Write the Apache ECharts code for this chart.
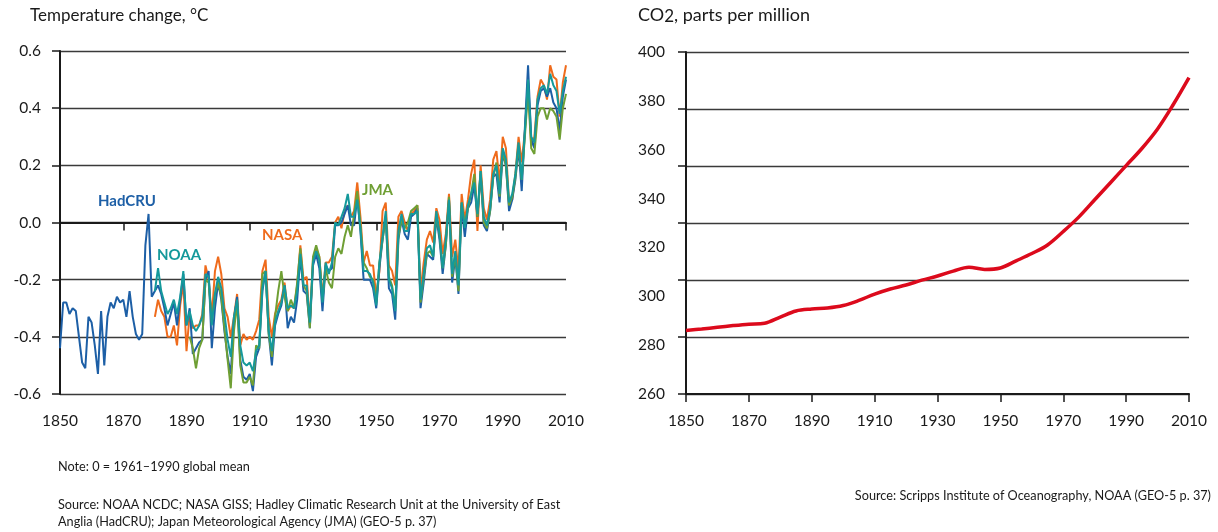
<!DOCTYPE html>
<html>
<head>
<meta charset="utf-8">
<script src="https://cdn.jsdelivr.net/npm/echarts@6/dist/echarts.min.js"></script>
<style>
  html, body { margin: 0; padding: 0; background: #ffffff; }
  #chart { width: 1218px; height: 532px; }
</style>
</head>
<body>
<div id="chart"></div>
<script>
// Global temperature anomalies (°C, relative to the 1961–1990 mean)
const hadcruStart = 1850;
const hadcru = [
  -0.44, -0.28, -0.28, -0.32, -0.30, -0.31, -0.40, -0.49, -0.51, -0.33,
  -0.35, -0.43, -0.53, -0.31, -0.50, -0.33, -0.28, -0.30, -0.26, -0.28,
  -0.27, -0.33, -0.24, -0.33, -0.39, -0.41, -0.39, -0.08, 0.03, -0.26,
  -0.24, -0.22, -0.25, -0.30, -0.36, -0.32, -0.28, -0.36, -0.27, -0.18,
  -0.36, -0.30, -0.46, -0.44, -0.42, -0.41, -0.20, -0.17, -0.44, -0.30,
  -0.21, -0.27, -0.38, -0.47, -0.53, -0.34, -0.26, -0.48, -0.54, -0.55,
  -0.53, -0.59, -0.47, -0.44, -0.24, -0.17, -0.39, -0.50, -0.36, -0.32,
  -0.29, -0.22, -0.37, -0.33, -0.35, -0.27, -0.12, -0.24, -0.25, -0.37,
  -0.15, -0.11, -0.16, -0.31, -0.15, -0.17, -0.16, -0.01, -0.01, 0.00,
  0.03, 0.06, -0.01, -0.01, 0.09, -0.03, -0.20, -0.20, -0.20, -0.23,
  -0.30, -0.16, -0.06, 0.02, -0.23, -0.25, -0.34, -0.06, 0.01, -0.04,
  -0.06, 0.02, 0.03, 0.05, -0.30, -0.21, -0.11, -0.12, -0.13, 0.02,
  -0.06, -0.18, -0.08, 0.08, -0.21, -0.12, -0.25, 0.06, -0.05, 0.05,
  0.07, 0.13, 0.02, 0.17, -0.01, -0.03, 0.04, 0.16, 0.17, 0.07,
  0.24, 0.20, 0.04, 0.08, 0.15, 0.26, 0.11, 0.33, 0.55, 0.29,
  0.26, 0.41, 0.46, 0.47, 0.44, 0.47, 0.42, 0.40, 0.32, 0.44, 0.50
];

const noaaStart = 1880;
const noaa = [
  -0.24, -0.16, -0.24, -0.28, -0.32, -0.30, -0.27, -0.32, -0.26, -0.17,
  -0.36, -0.31, -0.36, -0.38, -0.36, -0.33, -0.18, -0.19, -0.36, -0.25,
  -0.19, -0.23, -0.32, -0.41, -0.47, -0.33, -0.27, -0.43, -0.49, -0.50,
  -0.49, -0.52, -0.45, -0.43, -0.23, -0.17, -0.38, -0.45, -0.35, -0.31,
  -0.28, -0.22, -0.30, -0.29, -0.30, -0.24, -0.11, -0.22, -0.22, -0.35,
  -0.14, -0.10, -0.13, -0.28, -0.14, -0.18, -0.14, 0.00, -0.01, 0.02,
  0.05, 0.10, 0.02, 0.02, 0.08, -0.02, -0.17, -0.17, -0.18, -0.21,
  -0.29, -0.14, -0.05, 0.04, -0.20, -0.23, -0.31, -0.03, 0.03, -0.03,
  -0.03, 0.03, 0.03, 0.04, -0.27, -0.18, -0.09, -0.08, -0.12, 0.04,
  -0.04, -0.16, -0.06, 0.08, -0.18, -0.10, -0.22, 0.07, -0.02, 0.06,
  0.10, 0.14, 0.03, 0.18, 0.02, -0.01, 0.05, 0.17, 0.20, 0.10,
  0.26, 0.22, 0.07, 0.10, 0.17, 0.28, 0.15, 0.32, 0.50, 0.30,
  0.28, 0.43, 0.47, 0.48, 0.45, 0.52, 0.48, 0.46, 0.38, 0.46, 0.51
];

const nasaStart = 1880;
const nasa = [
  -0.33, -0.27, -0.31, -0.33, -0.40, -0.40, -0.36, -0.43, -0.29, -0.21,
  -0.45, -0.32, -0.37, -0.36, -0.36, -0.32, -0.15, -0.20, -0.33, -0.17,
  -0.12, -0.18, -0.30, -0.33, -0.40, -0.33, -0.25, -0.43, -0.39, -0.41,
  -0.40, -0.41, -0.38, -0.34, -0.17, -0.13, -0.33, -0.40, -0.32, -0.29,
  -0.27, -0.21, -0.31, -0.29, -0.30, -0.22, -0.08, -0.20, -0.19, -0.35,
  -0.13, -0.09, -0.12, -0.26, -0.14, -0.14, -0.12, 0.00, 0.02, -0.02,
  0.04, 0.06, 0.02, 0.04, 0.14, 0.02, -0.14, -0.10, -0.15, -0.15,
  -0.26, -0.17, 0.04, 0.07, -0.15, -0.17, -0.22, 0.02, 0.04, 0.00,
  -0.03, 0.03, 0.04, 0.06, -0.24, -0.14, -0.06, -0.03, -0.07, 0.05,
  0.01, -0.11, -0.04, 0.10, -0.12, -0.06, -0.17, 0.10, 0.01, 0.08,
  0.17, 0.22, -0.03, 0.20, 0.05, 0.01, 0.08, 0.22, 0.25, 0.14,
  0.30, 0.26, 0.07, 0.08, 0.17, 0.30, 0.21, 0.32, 0.49, 0.27,
  0.30, 0.44, 0.50, 0.48, 0.43, 0.55, 0.51, 0.50, 0.37, 0.49, 0.55
];

const jmaStart = 1891;
const jma = [
  -0.40, -0.44, -0.51, -0.44, -0.41, -0.20, -0.21, -0.35, -0.25,
  -0.21, -0.26, -0.37, -0.48, -0.58, -0.38, -0.28, -0.50, -0.56, -0.56,
  -0.54, -0.57, -0.43, -0.44, -0.18, -0.17, -0.39, -0.47, -0.33, -0.24,
  -0.17, -0.26, -0.31, -0.27, -0.30, -0.21, -0.09, -0.22, -0.24, -0.37,
  -0.12, -0.08, -0.12, -0.27, -0.16, -0.21, -0.23, -0.12, -0.09, -0.11,
  -0.05, -0.01, -0.05, 0.03, 0.11, -0.01, -0.14, -0.16, -0.19, -0.20,
  -0.28, -0.14, -0.06, 0.02, -0.19, -0.22, -0.30, -0.05, 0.01, -0.02,
  0.00, 0.04, 0.05, 0.06, -0.28, -0.19, -0.11, -0.10, -0.12, 0.03,
  -0.04, -0.16, -0.08, 0.09, -0.19, -0.11, -0.24, 0.07, -0.01, 0.05,
  0.10, 0.17, 0.02, 0.18, 0.00, -0.02, 0.04, 0.16, 0.21, 0.09,
  0.25, 0.20, 0.06, 0.09, 0.16, 0.27, 0.15, 0.30, 0.46, 0.26,
  0.24, 0.37, 0.40, 0.40, 0.36, 0.40, 0.39, 0.37, 0.29, 0.40, 0.45
];

// Atmospheric CO2 concentration (ppm), every five years
const co2Years = [
  1850, 1855, 1860, 1865, 1870, 1875, 1880, 1885, 1890, 1895, 1900,
  1905, 1910, 1915, 1920, 1925, 1930, 1935, 1940, 1945, 1950,
  1955, 1960, 1965, 1970, 1975, 1980, 1985, 1990, 1995, 2000, 2005, 2010
];
const co2 = [
  286.0, 286.6, 287.3, 288.0, 288.6, 289.0, 291.5, 294.0, 294.8, 295.2, 296.2,
  298.3, 300.9, 303.0, 304.6, 306.6, 308.3, 310.3, 311.9, 311.0, 311.6,
  314.5, 317.5, 321.0, 326.5, 332.5, 339.5, 346.5, 353.5, 360.5, 368.5, 378.5, 389.5
];

// Axis ranges and tick labels
const yearTicks = { min: 1850, max: 2010, step: 20 };
const tempTicks = { min: -0.6, max: 0.6, step: 0.2 };
const co2Ticks = { min: 260, max: 400, step: 20 };

const pairs = (start, values) => values.map((v, i) => [start + i, v]);

const FONT = 'Lato, "Open Sans", sans-serif';
const INK = '#1a1a1a';
const GRIDLINE = '#3a3a3a';

const axisLineStyle = { show: true, lineStyle: { color: INK, width: 2 } };
const tickStyle = { show: true, inside: false, length: 8, lineStyle: { color: INK, width: 1.5 } };
const tickLabel = { color: INK, fontFamily: FONT, fontSize: 15.5 };

const xAxisFor = (gridIndex) => ({
  type: 'value', gridIndex,
  min: yearTicks.min, max: yearTicks.max, interval: yearTicks.step,
  axisLine: axisLineStyle, axisTick: tickStyle,
  axisLabel: Object.assign({ margin: 19, formatter: (v) => String(v) }, tickLabel),
  splitLine: { show: false }
});

const lineSeries = (name, data, color, z) => ({
  name, type: 'line', xAxisIndex: 0, yAxisIndex: 0,
  data, showSymbol: false, symbol: 'none', z,
  lineStyle: { color, width: 2 }, itemStyle: { color },
  animation: false
});

const chart = echarts.init(document.getElementById('chart'), null, { renderer: 'canvas' });

chart.setOption({
  animation: false,
  backgroundColor: '#ffffff',
  textStyle: { fontFamily: FONT },
  grid: [
    { left: 60, top: 51, width: 506, height: 343 },
    { left: 686, top: 52, width: 503, height: 342 }
  ],
  xAxis: [xAxisFor(0), xAxisFor(1)],
  yAxis: [
    {
      type: 'value', gridIndex: 0, position: 'left',
      min: tempTicks.min, max: tempTicks.max, interval: tempTicks.step,
      axisLine: axisLineStyle, axisTick: tickStyle,
      axisLabel: Object.assign({
        margin: 19,
        formatter: (v) => (Math.abs(v) < 1e-9 ? '0.0' : v.toFixed(1))
      }, tickLabel),
      splitLine: { show: true, lineStyle: { color: GRIDLINE, width: 1.3 } }
    },
    {
      // gridlines and ticks of the CO2 panel
      type: 'value', gridIndex: 1, position: 'left', offset: 0,
      min: 0, max: 6, interval: 1,
      axisLine: { show: false }, axisTick: tickStyle,
      axisLabel: { show: false },
      splitLine: { show: true, lineStyle: { color: GRIDLINE, width: 1.3 } }
    },
    {
      // ppm scale of the CO2 panel
      type: 'value', gridIndex: 1, position: 'left', offset: 0,
      min: co2Ticks.min, max: co2Ticks.max, interval: co2Ticks.step,
      axisLine: axisLineStyle, axisTick: { show: false },
      axisLabel: Object.assign({ margin: 21 }, tickLabel),
      splitLine: { show: false }
    }
  ],
  series: [
    lineSeries('NASA', pairs(nasaStart, nasa), '#ef6b1c', 2),
    lineSeries('HadCRU', pairs(hadcruStart, hadcru), '#1d5fa6', 3),
    lineSeries('JMA', pairs(jmaStart, jma), '#6f9f34', 4),
    lineSeries('NOAA', pairs(noaaStart, noaa), '#15999b', 5),
    {
      name: 'CO2', type: 'line', xAxisIndex: 1, yAxisIndex: 2,
      data: co2Years.map((y, i) => [y, co2[i]]),
      smooth: 0.35, showSymbol: false, symbol: 'none',
      lineStyle: { color: '#dc0a1c', width: 3.5 },
      animation: false
    }
  ],
  graphic: [
    { type: 'text', left: 30, top: 7, style: { text: 'Temperature change, °C', fontFamily: FONT, fontSize: 17, fill: INK } },
    {
      type: 'text', left: 638, top: 6,
      style: {
        text: 'CO{s|2}, parts per million', fontFamily: FONT, fontSize: 18, fill: INK,
        rich: { s: { fontFamily: FONT, fontSize: 17, fill: INK, padding: [4, 0, 0, 0] } }
      }
    },
    { type: 'text', left: 98, top: 194, style: { text: 'HadCRU', fontFamily: FONT, fontSize: 15, fontWeight: 'bold', fill: '#1d5fa6' } },
    { type: 'text', left: 157, top: 248, style: { text: 'NOAA', fontFamily: FONT, fontSize: 15, fontWeight: 'bold', fill: '#15999b' } },
    { type: 'text', left: 262, top: 228, style: { text: 'NASA', fontFamily: FONT, fontSize: 15, fontWeight: 'bold', fill: '#ef6b1c' } },
    { type: 'text', left: 362, top: 183, style: { text: 'JMA', fontFamily: FONT, fontSize: 15, fontWeight: 'bold', fill: '#6f9f34' } },
    { type: 'text', left: 58, top: 460, style: { text: 'Note: 0 = 1961–1990 global mean', fontFamily: FONT, fontSize: 12.7, fill: INK } },
    {
      type: 'text', left: 58, top: 496,
      style: {
        text: 'Source: NOAA NCDC; NASA GISS; Hadley Climatic Research Unit at the University of East\nAnglia (HadCRU); Japan Meteorological Agency (JMA) (GEO-5 p. 37)',
        fontFamily: FONT, fontSize: 12.7, lineHeight: 17, fill: INK
      }
    },
    { type: 'text', right: 7, top: 489, style: { text: 'Source: Scripps Institute of Oceanography, NOAA (GEO-5 p. 37)', fontFamily: FONT, fontSize: 12.7, fill: INK } }
  ]
});
</script>
</body>
</html>
